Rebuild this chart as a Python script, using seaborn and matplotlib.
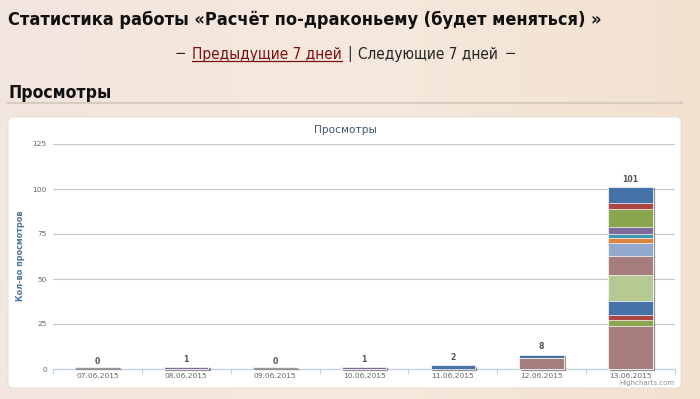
import numpy as np
import pandas as pd
import matplotlib
matplotlib.use("Agg")
import matplotlib.pyplot as plt
import seaborn as sns
from matplotlib import font_manager as fm
from matplotlib.patches import FancyBboxPatch
from matplotlib.colors import LinearSegmentedColormap
import matplotlib.transforms as mtransforms

# ---------------- data ----------------
days = ["07.06.2015", "08.06.2015", "09.06.2015", "10.06.2015",
        "11.06.2015", "12.06.2015", "13.06.2015"]

# stacked series, listed from the top of the stack to the bottom
s01 = [0, 0, 0, 0, 2, 2, 9]
s02 = [0, 0, 0, 0, 0, 0, 3]
s03 = [0, 0, 0, 0, 0, 0, 10]
s04 = [0, 1, 0, 1, 0, 0, 4]
s05 = [0, 0, 0, 0, 0, 0, 2]
s06 = [0, 0, 0, 0, 0, 0, 3]
s07 = [0, 0, 0, 0, 0, 0, 7]
s08 = [0, 0, 0, 0, 0, 6, 11]
s09 = [0, 0, 0, 0, 0, 0, 14]
s10 = [0, 0, 0, 0, 0, 0, 8]
s11 = [0, 0, 0, 0, 0, 0, 3]
s12 = [0, 0, 0, 0, 0, 0, 3]
s13 = [0, 0, 0, 0, 0, 0, 24]
series = [s01, s02, s03, s04, s05, s06, s07, s08, s09, s10, s11, s12, s13]
series_colors = ["#4572A7", "#AA4643", "#89A54E", "#80699B", "#3D96AE",
                 "#DB843D", "#92A8CD", "#A47D7C", "#B5CA92", "#4572A7",
                 "#AA4643", "#89A54E", "#A47D7C"]

yticks = [0, 25, 50, 75, 100, 125]

page_title = "Статистика работы «Расчёт по-драконьему (будет меняться) »"
nav_prev = "Предыдущие 7 дней"
nav_next = "Следующие 7 дней"
section_title = "Просмотры"
chart_title = "Просмотры"
y_label = "Кол-во просмотров"
credits = "Highcharts.com"

# ---------------- fonts ----------------
names = {f.name for f in fm.fontManager.ttflist}
if "Liberation Sans Narrow" in names:
    HF = dict(family="Liberation Sans Narrow")
elif "DejaVu Sans Condensed" in names:
    HF = dict(family="DejaVu Sans Condensed")
else:
    HF = dict(family="DejaVu Sans", fontstretch="condensed")
CF = dict(family="DejaVu Sans")

W, H = 700, 399
fig = plt.figure(figsize=(W / 100, H / 100), dpi=100)
renderer = fig.canvas.get_renderer()

# ---------------- page background ----------------
bg = fig.add_axes([0, 0, 1, 1], zorder=0)
bg.set_xlim(0, W)
bg.set_ylim(H, 0)
bg.axis("off")
cmap = LinearSegmentedColormap.from_list("bgc", ["#f2e5dd", "#f5e9de", "#f2e1cf"])
bg.imshow(np.linspace(0, 1, 256)[None, :], extent=[0, W, H, 0], aspect="auto",
          cmap=cmap, zorder=0)
bg.add_patch(FancyBboxPatch((8, 117), 673, 271,
                            boxstyle="round,pad=0,rounding_size=5",
                            fc="white", ec="#e6dbd1", lw=0.6, zorder=1))
bg.plot([8, 682], [102.5, 102.5], color="#d8cbbf", lw=1.6, zorder=1)


def fit(axh, x, y, s, width, vertical=False, **kw):
    t = axh.text(x, y, s, **kw)
    bb = t.get_window_extent(renderer)
    w = bb.height if vertical else bb.width
    t.set_fontsize(t.get_fontsize() * width / w)
    return t


fit(bg, 8, 20, page_title, 594, ha="left", va="center",
    fontsize=14, fontweight="bold", color="#111111", zorder=3, **HF)
fit(bg, 8, 93, section_title, 104, ha="left", va="center",
    fontsize=14, fontweight="bold", color="#111111", zorder=3, **HF)

# navigation line
tl = fit(bg, 0, 54, nav_prev, 149, ha="left", va="center", fontsize=12,
         color="#7a0f0f", zorder=3, **HF)
nfs = tl.get_fontsize()
pieces = [("−", "#222222"), (nav_prev, "#7a0f0f"), ("|", "#222222"),
          (nav_next, "#222222"), ("−", "#222222")]
arts, widths = [], []
for s, c in pieces:
    t = bg.text(0, 54, s, ha="left", va="center", fontsize=nfs, color=c,
                zorder=3, **HF)
    arts.append(t)
    widths.append(t.get_window_extent(renderer).width)
tl.remove()
gap = 6
total = sum(widths) + gap * (len(widths) - 1)
x = 345 - total / 2
for t, w in zip(arts, widths):
    t.set_x(x)
    if t.get_text() == nav_prev:
        bg.plot([x, x + w], [61, 61], color="#7a0f0f", lw=0.9, zorder=3)
    x += w + gap

fit(bg, 345, 130, chart_title, 62, ha="center", va="center", fontsize=9,
    color="#3E576F", zorder=3, **CF)
fit(bg, 21, 256, y_label, 92, vertical=True, rotation=90, ha="center",
    va="center", fontsize=6, fontweight="bold", color="#4d759e", zorder=3, **CF)
bg.text(674, 383, credits, ha="right", va="center", fontsize=5,
        color="#909090", zorder=3, **CF)

# ---------------- chart ----------------
ax = fig.add_axes([53 / W, 1 - 369 / H, 622 / W, 225 / H], zorder=2)
ax.patch.set_alpha(0)

arr = np.array(series, dtype=float)
totals = arr.sum(axis=0)
shift = mtransforms.ScaledTranslation(1.2 / 100, -1.2 / 100, fig.dpi_scale_trans)
lift = mtransforms.ScaledTranslation(0, 1.5 / 100, fig.dpi_scale_trans)

# shadow layer
before = len(ax.patches)
sns.barplot(x=days, y=totals, order=days, color="#000000", saturation=1,
            width=0.5, errorbar=None, edgecolor="#000000", linewidth=1.0,
            alpha=0.3, ax=ax, zorder=3)
for p, t in zip(ax.patches[before:], totals):
    p.set_clip_on(False)
    p.set_transform(ax.transData + shift + (lift if t == 0 else
                                            mtransforms.IdentityTransform()))

for i in range(len(series)):
    cum = arr[i:].sum(axis=0)
    before = len(ax.patches)
    df = pd.DataFrame({"day": days, "value": cum})
    sns.barplot(data=df, x="day", y="value", order=days, color=series_colors[i],
                saturation=1, width=0.5, errorbar=None, edgecolor="white",
                linewidth=0.5, ax=ax, zorder=3.2)
    for p, t in zip(ax.patches[before:], totals):
        p.set_clip_on(False)
        if p.get_height() == 0:
            if i == 0 and t == 0:
                p.set_edgecolor("#9a9a9a")
                p.set_linewidth(1.0)
                p.set_transform(ax.transData + lift)
            else:
                p.set_visible(False)

for i, t in enumerate(totals):
    ax.annotate(f"{int(t)}", (i, t), xytext=(0, 2.5), textcoords="offset points",
                ha="center", va="bottom", fontsize=5.6, fontweight="bold",
                color="#555555", zorder=5, **CF)

ax.set_xlim(-0.5, 6.5)
ax.set_ylim(0, 125)
ax.set_yticks(yticks)
ax.set_yticklabels([str(v) for v in yticks], **CF)
ax.set_xticks(range(len(days)))
ax.set_xticklabels(days, **CF)
ax.set_xticks(np.arange(-0.5, len(days), 1), minor=True)
ax.tick_params(axis="y", length=0, pad=4.5, labelsize=5.4, labelcolor="#666666")
ax.tick_params(axis="x", which="major", length=0, pad=3.2, labelsize=5.4,
               labelcolor="#666666")
ax.tick_params(axis="x", which="minor", length=3.6, width=0.8, color="#c0d0e0")
ax.yaxis.grid(True, color="#c8c8c8", lw=0.8)
ax.set_axisbelow(True)
ax.set_xlabel("")
ax.set_ylabel("")
for sp in ["top", "right", "left"]:
    ax.spines[sp].set_visible(False)
ax.spines["bottom"].set_color("#c0d0e0")
ax.spines["bottom"].set_linewidth(0.9)
ax.spines["bottom"].set_zorder(2.9)

fig.savefig("out.png", dpi=100)
